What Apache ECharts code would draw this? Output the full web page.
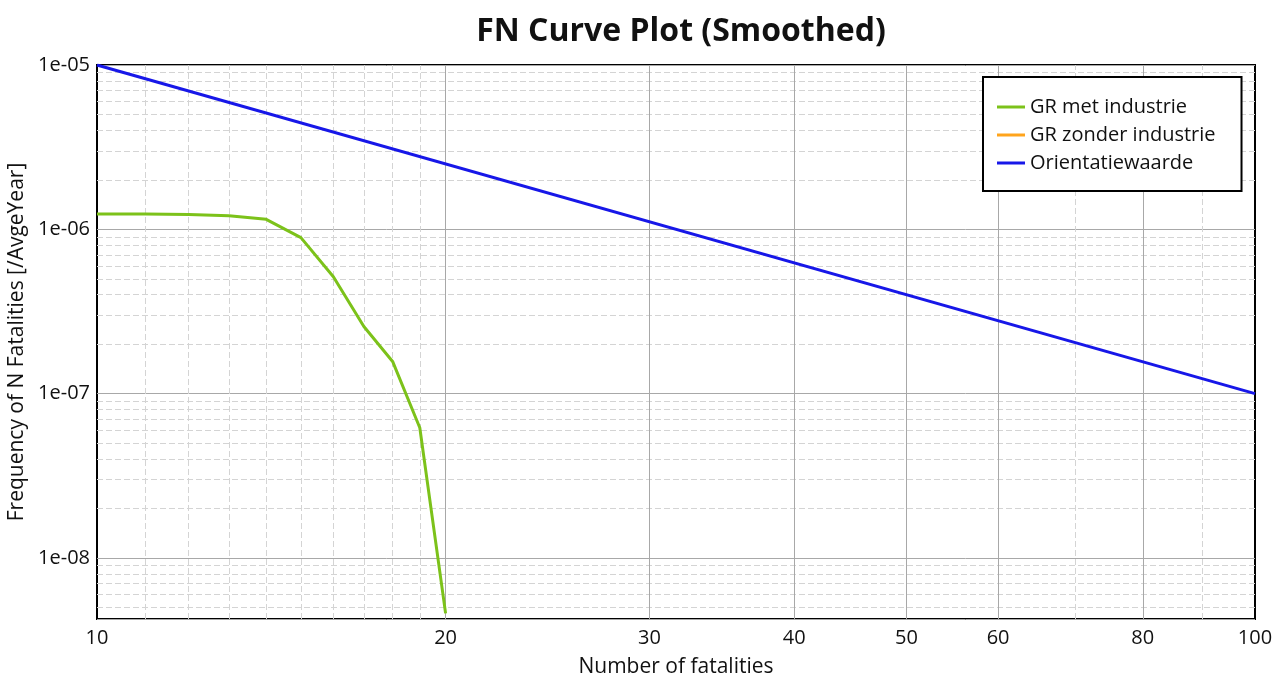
<!DOCTYPE html>
<html>
<head>
<meta charset="utf-8">
<title>FN Curve Plot (Smoothed)</title>
<script src="https://cdn.jsdelivr.net/npm/echarts@6/dist/echarts.min.js"></script>
<style>
  html, body { margin: 0; padding: 0; background: #fff; }
  #chart { width: 1274px; height: 678px; }
</style>
</head>
<body>
<div id="chart"></div>
<script>
// data
var metIndustrieN    = [10, 11, 12, 13, 14, 15, 16, 17, 18, 19, 20];
var metIndustrieF    = [1.24e-6, 1.24e-6, 1.23e-6, 1.21e-6, 1.15e-6, 8.9e-7, 5.15e-7, 2.56e-7, 1.57e-7, 6.2e-8, 4.6e-9];
var zonderIndustrieN = [];
var zonderIndustrieF = [];
var orientatieN      = [10, 100];
var orientatieF      = [1e-5, 1e-7];

// axis ranges and tick labels
var xMin = 10, xMax = 100;
var yMin = 4.25e-9, yMax = 1e-5;
var xMajorTicks = [20, 30, 40, 50, 60, 80];
var xMinorTicks = [11, 12, 13, 14, 15, 16, 17, 18, 19, 70, 90];
var yMantissas  = [2, 3, 4, 5, 6, 7, 8, 9];
var yDecades    = [-9, -8, -7, -6];

var names = ['GR met industrie', 'GR zonder industrie', 'Orientatiewaarde'];

function pairs(xs, ys) {
  return xs.map(function (x, i) { return [x, ys[i]]; });
}

// minor horizontal grid values (2..9 x each decade inside the range)
var yMinorTicks = [];
yDecades.forEach(function (d) {
  yMantissas.forEach(function (m) {
    var v = m * Math.pow(10, d);
    if (v > yMin && v < yMax) yMinorTicks.push(v);
  });
});

var font = '"Open Sans", "DejaVu Sans", sans-serif';
var minorStyle = { color: '#d4d4d4', type: [6, 3], width: 1 };
var majorStyle = { color: '#a8a8a8', type: 'solid', width: 1 };

var gridLines = [];
yMinorTicks.forEach(function (v) {
  gridLines.push([
    { coord: [xMin, v], lineStyle: minorStyle, label: { show: false } },
    { coord: [xMax, v] }
  ]);
});
xMinorTicks.forEach(function (v) {
  gridLines.push([
    { coord: [v, yMin], lineStyle: minorStyle, label: { show: false } },
    { coord: [v, yMax] }
  ]);
});
xMajorTicks.forEach(function (v) {
  gridLines.push([
    {
      coord: [v, yMin], lineStyle: majorStyle,
      label: {
        show: true, position: 'start', distance: 9,
        formatter: String(v),
        fontFamily: font, fontSize: 20, color: '#111'
      }
    },
    { coord: [v, yMax] }
  ]);
});

var myChart = echarts.init(document.getElementById('chart'));

var option = {
  backgroundColor: '#fff',
  animation: false,
  textStyle: { fontFamily: font, color: '#111' },
  title: {
    text: 'FN Curve Plot (Smoothed)',
    left: 676,
    textAlign: 'center',
    top: 11,
    textStyle: { fontFamily: font, fontSize: 32, fontWeight: 'bold', color: '#111' }
  },
  legend: {
    data: names,
    orient: 'vertical',
    left: 983,
    top: 77,
    padding: [20, 26, 18, 14],
    itemGap: 8,
    itemWidth: 28,
    itemHeight: 3,
    icon: 'rect',
    backgroundColor: '#fff',
    borderColor: '#000',
    borderWidth: 2,
    borderRadius: 0,
    textStyle: { fontFamily: font, fontSize: 20, color: '#111' }
  },
  grid: {
    left: 97, right: 19, top: 65, bottom: 59,
    outerBoundsMode: 'none',
    containLabel: false,
    show: true,
    borderColor: '#000',
    borderWidth: 2,
    backgroundColor: '#fff'
  },
  xAxis: {
    type: 'log',
    logBase: 10,
    min: xMin,
    max: xMax,
    name: 'Number of fatalities',
    nameLocation: 'middle',
    nameGap: 38,
    nameTextStyle: { fontFamily: font, fontSize: 21, color: '#111' },
    axisLine: { show: false },
    axisTick: { show: false },
    splitLine: { show: false },
    axisLabel: { fontFamily: font, fontSize: 20, color: '#111', margin: 9 }
  },
  yAxis: {
    type: 'log',
    logBase: 10,
    min: yMin,
    max: yMax,
    name: 'Frequency of N Fatalities [/AvgeYear]',
    nameLocation: 'middle',
    nameGap: 63,
    nameTextStyle: { fontFamily: font, fontSize: 21, color: '#111' },
    axisLine: { show: false },
    axisTick: { show: false },
    splitLine: { show: true, lineStyle: majorStyle },
    axisLabel: {
      fontFamily: font, fontSize: 20, color: '#111', margin: 7,
      showMinLabel: false,
      formatter: function (v) {
        var e = Math.round(Math.log10(v));
        if (Math.abs(Math.log10(v) - e) > 1e-6) return '';
        return '1e-' + String(-e).padStart(2, '0');
      }
    }
  },
  series: [
    {
      // grid lines between the labelled ticks
      name: 'grid',
      type: 'line',
      data: [],
      silent: true,
      z: 1,
      markLine: {
        silent: true,
        symbol: 'none',
        animation: false,
        z: 1,
        data: gridLines
      }
    },
    {
      name: names[0],
      type: 'line',
      data: pairs(metIndustrieN, metIndustrieF),
      showSymbol: false,
      z: 6,
      color: '#7cc21a',
      lineStyle: { color: '#7cc21a', width: 3 }
    },
    {
      name: names[1],
      type: 'line',
      data: pairs(zonderIndustrieN, zonderIndustrieF),
      showSymbol: false,
      z: 6,
      color: '#ffa41c',
      lineStyle: { color: '#ffa41c', width: 3 }
    },
    {
      name: names[2],
      type: 'line',
      data: pairs(orientatieN, orientatieF),
      showSymbol: false,
      z: 7,
      color: '#1717e8',
      lineStyle: { color: '#1717e8', width: 3 }
    }
  ]
};

myChart.setOption(option);
</script>
</body>
</html>
